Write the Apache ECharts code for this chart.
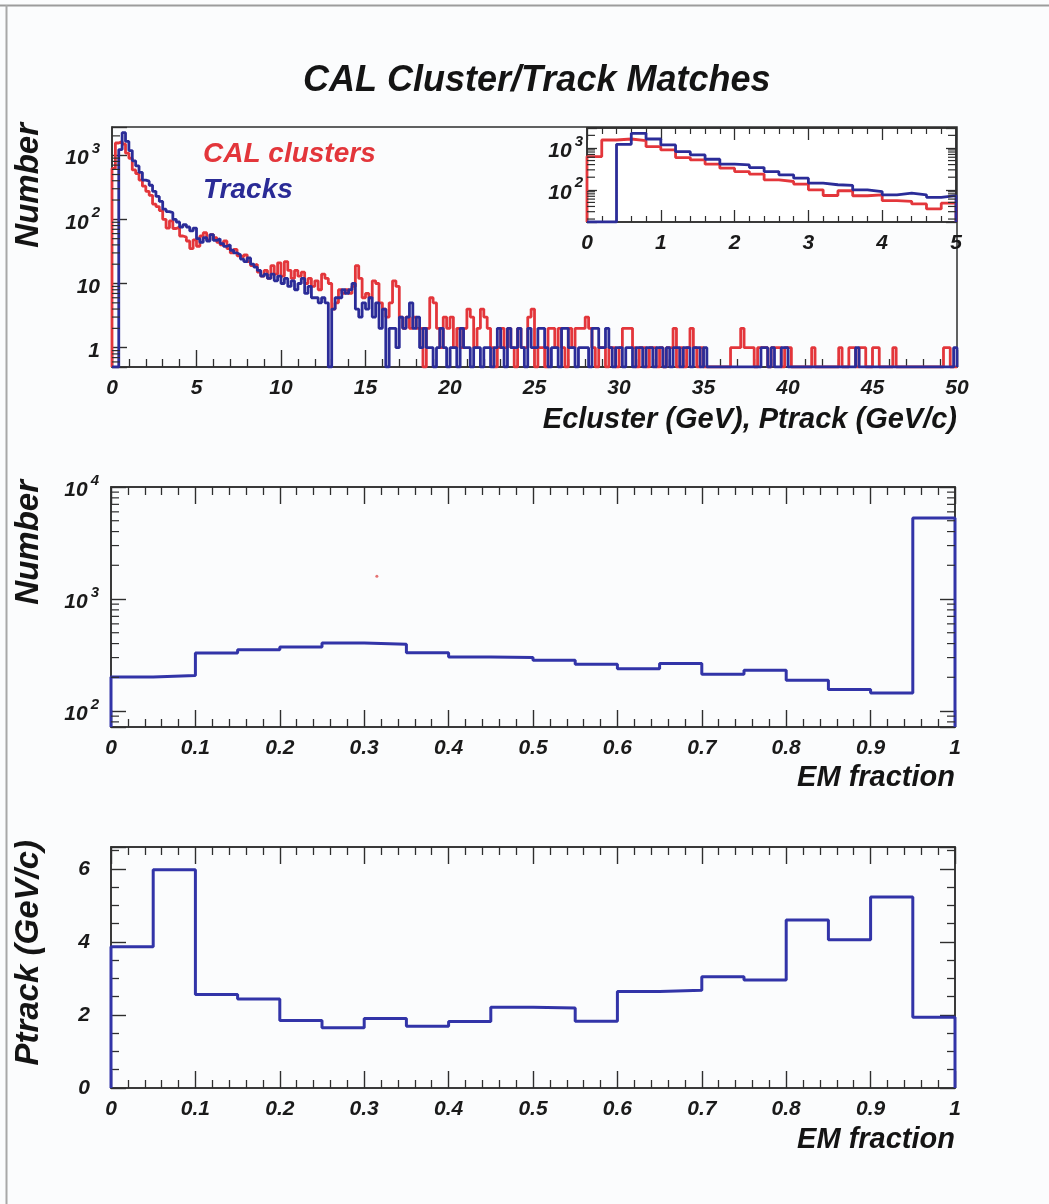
<!DOCTYPE html>
<html>
<head>
<meta charset="utf-8">
<script src="https://cdn.jsdelivr.net/npm/echarts@6/dist/echarts.min.js"></script>
<style>
html,body{margin:0;padding:0;background:#fbfcfd;}
#chart{width:1049px;height:1204px;}
</style>
</head>
<body>
<div id="chart"></div>
<script>
// ---------------- DATA ----------------
// Energy histograms: 0.2 GeV bins from 0 to 50 GeV (250 bins)
const energyBinWidth = 0.2;
const calClusters = [
  621,1550,1637,1493,1074,896,589,518,409,329,273,237,173,158,137,100,73,95,72,76,55,53,46,35,48,
  38,55,62,48,58,52,44,40,46,35,30,34,27,26,28,22,19,20,15,13,16,12,19,14,21,13,22,16,12,16,13,15,10,12,9,11,8,14,
  12,10,4,5,8,7,8,7,9,19, 12,6,7,6,11,10,5,4,3,5, 11,9,3,2,3,2,3,2,2,0, 2,6,5,2,1,3,2,3,1,2, 1,2,4,3,1,2,4,3,2,1, 0,1,2,1,2,1,0,2,1,1, 3,4,
  0,1,1,0,2,2,1,2,1,0, 2,1,2,2,2,3,2,1,0,1, 1,0,1,1,0,1,2,2,2,1, 0,1,1,0,1,1,0,1,0,1, 1,2,0,1,0,1,2,1,0,1,
  0,0,0,0,0,0,0,0, 1,1,1,2,1,1,1,0,1,1,1,0,1,1,1,0,1,1,0, 0,0,0,0,0, 1, 0, 0,0,0,0,0,0, 1, 0,0, 1,1,0,1,1,0,0, 1,1, 0,0,0,0, 1, 0,
  0,0,0,0,0,0,0,0,0,0,0,0,0, 1,1, 0,0
];
const tracks = [
  0,0,1225,2240,1637,1179,817,681,538,409,394,340,273,228,190,144,132,127,100,91,76,83,76,66,73,
  50,44,52,46,58,47,50,42,38,40,33,30,28,24,22,25,20,18,16,13,14,12,14,11,13,10,12,9,11,8,10,12,7,9,6,6,5,6,
  5,0,4,6,6,8,7,8,10,4, 3,5,4,6,3,5,2,4,0,2, 2,1,3,2,3,5,2,3,1,2, 1,1,0,1,2,1,0,1,1,0, 2,1,1,0,1,1,0,1,1,0, 1,2,1,0,2,1,1,2,1,0, 2,1,
  1,2,2,1,0,1,1,0,2,2, 1,1,0,1,1,1,0,2,2,1, 1,2,1,0,1,1,0,1,1,0, 1,1,0,1,1,0,1,1,0,1, 0,1,1,0,1,1,0,1,1,0,
  1, 0,0,0,0,0,0,0,0,0,0,0,0,0,0,0,0, 1,1,0,1,0,0,1,1,0,
  0,0,0,0,0,0,0,0,0,0,0,0,0,0,0,0,0,0,0, 1,
  0,0,0,0,0,0,0,0,0,0,0,0,0,0,0,0,0,0,0,0,0,0,0,0,0,0,0,0, 1
];
const insetBinCount = 25;            // inset shows 0-5 GeV
// EM fraction: 0.05 bins from 0 to 1
const emBinWidth = 0.05;
const emCounts = [201,208,330,353,373,405,394,332,303,300,284,261,239,265,213,231,188,156,145,5280];
const emMeanPtrack = [3.87,5.98,2.56,2.44,1.85,1.65,1.90,1.69,1.82,2.21,2.19,1.83,2.64,2.68,3.05,2.96,4.60,4.06,5.23,1.94];
const strayPoint = [[0.315, 1600]];   // small red speck visible in the middle panel

// axis ranges
const topRange = {xMin:0, xMax:50, yMin:0.5, yMax:2750};
const insetRange = {xMin:0, xMax:5, yMin:17, yMax:3000};
const emRange = {xMin:0, xMax:1, yMin:72, yMax:10000};
const ptRange = {xMin:0, xMax:1, yMin:0, yMax:6.6};

// ---------------- STYLE ----------------
const RED = '#e3363b';
const BLUE = '#2b2c98';
const EM_BLUE = '#3234a8';
const AXIS = '#2e2e2e';
const FONT = '"Liberation Sans", Arial, Helvetica, sans-serif';
const labelBase = {fontFamily: FONT, fontWeight: 'bold', fontStyle: 'italic', fontSize: 21, color: '#1a1a1a'};
const richLog = {
  b: {fontFamily: FONT, fontWeight: 'bold', fontStyle: 'italic', fontSize: 21, color: '#1a1a1a', lineHeight: 28, verticalAlign: 'bottom'},
  s: {fontFamily: FONT, fontWeight: 'bold', fontStyle: 'italic', fontSize: 15, color: '#1a1a1a', verticalAlign: 'top', padding: [0, 0, 0, 3]}
};

function histPoints(values, width, floor) {
  const pts = [[0, floor]];
  values.forEach((v, i) => {
    const y = Math.max(v, floor);
    pts.push([i * width, y], [(i + 1) * width, y]);
  });
  pts.push([values.length * width, floor]);
  return pts;
}
function powLabel(v) {
  const e = Math.log10(v), r = Math.round(e);
  if (Math.abs(e - r) > 1e-6) return '';
  if (r === 0) return '{b|1}';
  if (r === 1) return '{b|10}';
  return '{b|10}{s|' + r + '}';
}
function decLabel(v) {
  const r = Math.round(v * 10) / 10;
  return String(r);
}
function logMinorValues(min, max) {
  const out = [];
  for (let d = Math.floor(Math.log10(min)) - 1; d <= Math.ceil(Math.log10(max)); d++) {
    for (let m = 2; m <= 9; m++) {
      const v = m * Math.pow(10, d);
      if (v > min && v < max) out.push(v);
    }
  }
  return out;
}
function logMinorTickSeries(xAxisIndex, yAxisIndex, range, bothSides) {
  return {
    type: 'custom', xAxisIndex, yAxisIndex, silent: true, clip: false, z: 6,
    data: logMinorValues(range.yMin, range.yMax).map(v => [range.xMin, v]),
    renderItem(params, api) {
      const v = api.value(1);
      const pL = api.coord([range.xMin, v]);
      const pR = api.coord([range.xMax, v]);
      const st = {stroke: AXIS, lineWidth: 1.2};
      const ch = [{type: 'line', shape: {x1: pL[0], y1: pL[1], x2: pL[0] + 8, y2: pL[1]}, style: st}];
      if (bothSides) ch.push({type: 'line', shape: {x1: pR[0], y1: pR[1], x2: pR[0] - 8, y2: pR[1]}, style: st});
      return {type: 'group', children: ch};
    }
  };
}
function xAxisCfg(grid, range, interval, fmt, opts) {
  return Object.assign({
    type: 'value', gridIndex: grid, min: range.xMin, max: range.xMax, interval,
    position: 'bottom',
    axisLine: {show: true, onZero: false, lineStyle: {color: AXIS, width: 1.5}},
    axisTick: {show: true, inside: true, length: 17, lineStyle: {color: AXIS, width: 1.4}},
    minorTick: {show: true, splitNumber: 5, length: 8, lineStyle: {color: AXIS, width: 1.3}},
    splitLine: {show: false}, minorSplitLine: {show: false},
    axisLabel: Object.assign({show: true, margin: 11, formatter: fmt}, labelBase)
  }, opts || {});
}
function mirrorX(grid, range, interval) {
  return xAxisCfg(grid, range, interval, () => '', {position: 'top', axisLabel: {show: false}});
}
function logYAxis(grid, range, margin, opts) {
  return Object.assign({
    type: 'log', logBase: 10, gridIndex: grid, min: range.yMin, max: range.yMax, position: 'left',
    axisLine: {show: true, onZero: false, lineStyle: {color: AXIS, width: 1.5}},
    axisTick: {show: true, inside: true, length: 15, lineStyle: {color: AXIS, width: 1.4}},
    minorTick: {show: false}, splitLine: {show: false},
    axisLabel: {show: true, margin, formatter: powLabel, rich: richLog, showMinLabel: true, showMaxLabel: true}
  }, opts || {});
}

const gridBase = {show: true, borderColor: AXIS, borderWidth: 1.5, backgroundColor: 'transparent', containLabel: false, outerBoundsMode: 'none'};

const option = {
  animation: false,
  backgroundColor: '#fbfcfd',
  title: {
    text: 'CAL Cluster/Track Matches', left: 303, top: 63, padding: 0,
    textStyle: {fontFamily: FONT, fontWeight: 'bold', fontStyle: 'italic', fontSize: 36, color: '#141414'}
  },
  legend: {
    data: [
      {name: 'CAL clusters', textStyle: {color: RED}},
      {name: 'Tracks', textStyle: {color: '#2a2b96'}}
    ],
    orient: 'vertical', left: 193, top: 133, icon: 'none', itemWidth: 0, itemHeight: 10, itemGap: 4,
    selectedMode: false,
    textStyle: {fontFamily: FONT, fontWeight: 'bold', fontStyle: 'italic', fontSize: 28, lineHeight: 32}
  },
  grid: [
    Object.assign({left: 112, top: 127, width: 845, height: 240}, gridBase),
    Object.assign({left: 587, top: 128, width: 369, height: 94}, gridBase, {backgroundColor: '#ffffff'}),
    Object.assign({left: 111, top: 487, width: 844, height: 240}, gridBase),
    Object.assign({left: 111, top: 847, width: 844, height: 241}, gridBase)
  ],
  xAxis: [
    xAxisCfg(0, topRange, 5, v => String(Math.round(v))),
    xAxisCfg(1, insetRange, 1, v => String(Math.round(v)), {axisTick: {show: true, inside: true, length: 12, lineStyle: {color: AXIS, width: 1.3}}, minorTick: {show: true, splitNumber: 5, length: 6, lineStyle: {color: AXIS, width: 1.2}}}),
    Object.assign(mirrorX(1, insetRange, 1), {axisTick: {show: true, inside: true, length: 12, lineStyle: {color: AXIS, width: 1.3}}, minorTick: {show: true, splitNumber: 5, length: 6, lineStyle: {color: AXIS, width: 1.2}}}),
    xAxisCfg(2, emRange, 0.1, decLabel, {}),
    mirrorX(2, emRange, 0.1),
    xAxisCfg(3, ptRange, 0.1, decLabel, {}),
    mirrorX(3, ptRange, 0.1)
  ],
  yAxis: [
    logYAxis(0, topRange, 12),
    logYAxis(1, insetRange, 4, {axisTick: {show: true, inside: true, length: 10, lineStyle: {color: AXIS, width: 1.3}}}),
    logYAxis(1, insetRange, 4, {position: 'right', axisLabel: {show: false}, axisTick: {show: true, inside: true, length: 10, lineStyle: {color: AXIS, width: 1.3}}}),
    logYAxis(2, emRange, 12),
    logYAxis(2, emRange, 12, {position: 'right', axisLabel: {show: false}}),
    {
      type: 'value', gridIndex: 3, min: ptRange.yMin, max: ptRange.yMax, interval: 2, position: 'left',
      axisLine: {show: true, onZero: false, lineStyle: {color: AXIS, width: 1.5}},
      axisTick: {show: true, inside: true, length: 15, lineStyle: {color: AXIS, width: 1.4}},
      minorTick: {show: true, splitNumber: 4, length: 8, lineStyle: {color: AXIS, width: 1.3}},
      splitLine: {show: false},
      axisLabel: Object.assign({margin: 21, formatter: v => (Math.abs(v / 2 - Math.round(v / 2)) < 1e-9 ? String(Math.round(v)) : '')}, labelBase)
    },
    {
      type: 'value', gridIndex: 3, min: ptRange.yMin, max: ptRange.yMax, interval: 2, position: 'right',
      axisLine: {show: true, onZero: false, lineStyle: {color: AXIS, width: 1.5}},
      axisTick: {show: true, inside: true, length: 15, lineStyle: {color: AXIS, width: 1.4}},
      minorTick: {show: true, splitNumber: 4, length: 8, lineStyle: {color: AXIS, width: 1.3}},
      splitLine: {show: false}, axisLabel: {show: false}
    }
  ],
  series: [
    {name: 'CAL clusters', type: 'line', xAxisIndex: 0, yAxisIndex: 0, showSymbol: false, symbol: 'none',
     data: histPoints(calClusters, energyBinWidth, topRange.yMin), lineStyle: {color: RED, width: 2.8}, itemStyle: {color: RED}, z: 3},
    {name: 'Tracks', type: 'line', xAxisIndex: 0, yAxisIndex: 0, showSymbol: false, symbol: 'none',
     data: histPoints(tracks, energyBinWidth, topRange.yMin), lineStyle: {color: BLUE, width: 2.8}, itemStyle: {color: BLUE}, z: 3},
    {name: 'CAL clusters', type: 'line', xAxisIndex: 1, yAxisIndex: 1, showSymbol: false, symbol: 'none',
     data: histPoints(calClusters.slice(0, insetBinCount), energyBinWidth, insetRange.yMin), lineStyle: {color: RED, width: 2.8}, itemStyle: {color: RED}, z: 4},
    {name: 'Tracks', type: 'line', xAxisIndex: 1, yAxisIndex: 1, showSymbol: false, symbol: 'none',
     data: histPoints(tracks.slice(0, insetBinCount), energyBinWidth, insetRange.yMin), lineStyle: {color: BLUE, width: 2.8}, itemStyle: {color: BLUE}, z: 4},
    {name: 'EM fraction', type: 'line', xAxisIndex: 3, yAxisIndex: 3, showSymbol: false, symbol: 'none',
     data: histPoints(emCounts, emBinWidth, emRange.yMin), lineStyle: {color: EM_BLUE, width: 3}, itemStyle: {color: EM_BLUE}},
    {name: 'speck', type: 'scatter', xAxisIndex: 3, yAxisIndex: 3, symbolSize: 3, data: strayPoint, itemStyle: {color: '#e05050'}, silent: true},
    {name: 'Mean Ptrack', type: 'line', xAxisIndex: 5, yAxisIndex: 5, showSymbol: false, symbol: 'none',
     data: histPoints(emMeanPtrack, emBinWidth, ptRange.yMin), lineStyle: {color: EM_BLUE, width: 3}, itemStyle: {color: EM_BLUE}},
    logMinorTickSeries(0, 0, topRange, false),
    logMinorTickSeries(1, 1, insetRange, true),
    logMinorTickSeries(3, 3, emRange, true)
  ],
  graphic: [
    {type: 'line', silent: true, shape: {x1: 0, y1: 5.5, x2: 1049, y2: 5.5}, style: {stroke: '#9c9c9c', lineWidth: 2}},
    {type: 'line', silent: true, shape: {x1: 6.5, y1: 5, x2: 6.5, y2: 1204}, style: {stroke: '#a8a8a8', lineWidth: 2}},
    {type: 'text', silent: true, x: 29, y: 123, rotation: Math.PI / 2,
     style: {text: 'Number', font: 'italic bold 33px ' + FONT, fill: '#141414', align: 'right', verticalAlign: 'middle'}},
    {type: 'text', silent: true, x: 29, y: 480, rotation: Math.PI / 2,
     style: {text: 'Number', font: 'italic bold 33px ' + FONT, fill: '#141414', align: 'right', verticalAlign: 'middle'}},
    {type: 'text', silent: true, x: 29, y: 840, rotation: Math.PI / 2,
     style: {text: 'Ptrack (GeV/c)', font: 'italic bold 33px ' + FONT, fill: '#141414', align: 'right', verticalAlign: 'middle'}},
    {type: 'text', silent: true, x: 957, y: 420,
     style: {text: 'Ecluster (GeV), Ptrack (GeV/c)', font: 'italic bold 29px ' + FONT, fill: '#141414', align: 'right', verticalAlign: 'middle'}},
    {type: 'text', silent: true, x: 955, y: 778,
     style: {text: 'EM fraction', font: 'italic bold 29px ' + FONT, fill: '#141414', align: 'right', verticalAlign: 'middle'}},
    {type: 'text', silent: true, x: 955, y: 1140,
     style: {text: 'EM fraction', font: 'italic bold 29px ' + FONT, fill: '#141414', align: 'right', verticalAlign: 'middle'}}
  ]
};

const chart = echarts.init(document.getElementById('chart'), null, {renderer: 'canvas'});
chart.setOption(option);
</script>
</body>
</html>
